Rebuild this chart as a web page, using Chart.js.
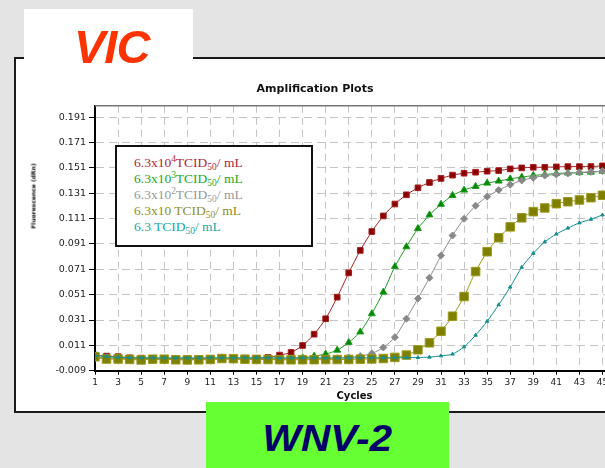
<!DOCTYPE html>
<html>
<head>
<meta charset="utf-8">
<script src="https://cdn.jsdelivr.net/npm/chart.js@4.4.1/dist/chart.umd.min.js"></script>
<style>
  html, body { margin: 0; padding: 0; }
  body {
    width: 605px; height: 468px; overflow: hidden; position: relative;
    background: #e4e4e4;
    font-family: 'Liberation Sans', Arial, sans-serif;
  }
  #box {
    position: absolute; left: 14px; top: 57px; width: 614px; height: 356px;
    box-sizing: border-box; border: 2px solid #1a1a1a; background: #fff;
  }
  #wrap { position: absolute; left: 0; top: 0; width: 608px; height: 352px; }
  #vic {
    position: absolute; left: 24px; top: 9px; width: 169px; height: 52px;
    background: #fff; z-index: 2;
  }
  #vic span {
    position: absolute; left: 50px; top: 14px;
    font: italic bold 47px/47px 'Liberation Sans', Arial, sans-serif;
    color: #ff3300; letter-spacing: -1px;
  }
  #legend {
    position: absolute; left: 115px; top: 145px; width: 198px; height: 102px;
    box-sizing: border-box; border: 2px solid #111; background: #fff;
    padding: 8px 0 0 17px; z-index: 2;
    font: 13.5px/16px 'Liberation Serif', 'Times New Roman', serif;
    white-space: nowrap;
  }
  #legend sup, #legend sub { font-size: 70%; line-height: 0; vertical-align: baseline; position: relative; }
  #legend sup { top: -0.5em; }
  #legend sub { top: 0.3em; }
  #ytitle {
    position: absolute; left: 33px; top: 196px; z-index: 2;
    transform: translate(-50%, -50%) rotate(-90deg);
    font: bold 6px 'DejaVu Sans', sans-serif; color: #111; white-space: nowrap;
  }
  #wnv {
    position: absolute; left: 206px; top: 402px; width: 243px; height: 66px;
    background: #66ff33; z-index: 3; text-align: center;
  }
  #wnv span {
    display: inline-block; margin-top: 19px;
    font: italic bold 36px/36px 'Liberation Sans', Arial, sans-serif;
    color: #000066; transform: scaleX(1.13);
  }
</style>
</head>
<body>
<div id="box"><div id="wrap"><canvas id="chart"></canvas></div></div>
<div id="vic"><span>VIC</span></div>
<div id="legend"></div>
<div id="ytitle">Fluorescence (dRn)</div>
<div id="wnv"><span>WNV-2</span></div>

<script>
var cycles = [1,2,3,4,5,6,7,8,9,10,11,12,13,14,15,16,17,18,19,20,21,22,23,24,25,26,27,28,29,30,
              31,32,33,34,35,36,37,38,39,40,41,42,43,44,45];
var xTicks = [1,3,5,7,9,11,13,15,17,19,21,23,25,27,29,31,33,35,37,39,41,43,45];
var yTicks = [-0.009, 0.011, 0.031, 0.051, 0.071, 0.091, 0.111, 0.131, 0.151, 0.171, 0.191];

var seriesNames = ['6.3x10^4 TCID50/mL', '6.3x10^3 TCID50/mL', '6.3x10^2 TCID50/mL',
                   '6.3x10 TCID50/mL', '6.3 TCID50/mL'];
var seriesLegend = [
  '6.3x10<sup>4</sup>TCID<sub>50</sub>/ mL',
  '6.3x10<sup>3</sup>TCID<sub>50</sub>/ mL',
  '6.3x10<sup>2</sup>TCID<sub>50</sub>/ mL',
  '6.3x10 TCID<sub>50</sub>/ mL',
  '6.3 TCID<sub>50</sub>/ mL'
];

var red = [0.0033,0.0025,0.0021,0.0012,0.0009,0.0006,0.0005,0.0004,0.0004,0.0004,
           0.0005,0.0006,0.0006,0.0006,0.0008,0.0015,0.0033,0.0054,0.0109,0.0198,
           0.032,0.049,0.0682,0.0859,0.1008,0.1131,0.1225,0.1298,0.1353,0.1395,
           0.1427,0.1453,0.1468,0.1476,0.1484,0.1489,0.1502,0.151,0.1515,0.1515,
           0.1518,0.152,0.152,0.1521,0.1526];
var green = [0.0015,0.001,0.0008,0.0004,0.0002,0.0002,0.0001,0.0001,0.0001,0.0001,
             0.0002,0.0003,0.0003,0.0002,0.0002,0.0002,0.0003,0.0006,0.0012,0.0025,
             0.0041,0.0072,0.0133,0.0216,0.036,0.053,0.0731,0.0888,0.1032,0.1139,
             0.1223,0.1293,0.1335,0.1364,0.139,0.1406,0.1424,0.1437,0.145,0.1458,
             0.1466,0.147,0.1473,0.1476,0.1484];
var gray = [0.0012,0.0008,0.0006,0.0004,0.0003,0.0003,0.0002,0.0002,0.0002,0.0002,
            0.0003,0.0004,0.0004,0.0003,0.0003,0.0003,0.0003,0.0003,0.0004,0.0004,
            0.0005,0.0008,0.0015,0.0025,0.0046,0.0093,0.0174,0.032,0.048,0.0643,
            0.0818,0.0977,0.1108,0.1212,0.1283,0.1335,0.1377,0.1411,0.1432,0.145,
            0.1458,0.1466,0.1474,0.1479,0.1484];
var olive = [0.002,0.0002,0.0002,-0.0001,-0.0005,0.0001,0.0001,-0.0004,-0.0005,-0.0004,
             -0.0001,0.0006,0.0005,0.0001,-0.0001,-0.0002,-0.0003,-0.0004,-0.0003,-0.0003,
             -0.0002,-0.0002,-0.0001,0.0001,0.0003,0.0006,0.0015,0.0033,0.0075,0.013,
             0.0221,0.034,0.0495,0.0692,0.0849,0.0959,0.1045,0.1116,0.1165,0.1194,
             0.1228,0.1243,0.1257,0.1275,0.1294];
var teal = [0.003,0.0022,0.0016,0.0013,0.0012,0.0012,0.0011,0.0011,0.0011,0.0011,
            0.0012,0.0012,0.0012,0.0012,0.0012,0.0012,0.0011,0.0011,0.0011,0.0011,
            0.0011,0.0011,0.0011,0.0012,0.0012,0.0012,0.0012,0.0013,0.0014,0.0017,
            0.0027,0.0041,0.0098,0.019,0.03,0.043,0.057,0.0726,0.0836,0.0927,
            0.0988,0.1035,0.1076,0.1105,0.1139];

var legendColors = ['#b01e3a', '#22aa22', '#999999', '#8f8f1f', '#22a8a8'];

document.getElementById('legend').innerHTML = seriesLegend.map(function (t, i) {
  return '<div style="color:' + legendColors[i] + '">' + t + '</div>';
}).join('');

function pts(vals) {
  return cycles.map(function (c, i) { return {x: c, y: vals[i]}; });
}

// grey frame line along the top of the plot area
var topLine = {
  id: 'topLine',
  beforeDatasetsDraw: function (chart) {
    var a = chart.chartArea, ctx = chart.ctx;
    ctx.save();
    ctx.strokeStyle = '#777';
    ctx.lineWidth = 1.5;
    ctx.beginPath();
    ctx.moveTo(a.left, a.top);
    ctx.lineTo(a.right, a.top);
    ctx.stroke();
    ctx.restore();
  }
};

var tickFont = {family: "'DejaVu Sans', sans-serif", size: 9};

new Chart(document.getElementById('chart'), {
  type: 'line',
  data: {
    datasets: [
      {label: seriesNames[0], data: pts(red), borderColor: '#a52020', backgroundColor: '#8b0000',
       pointStyle: 'rect', pointRadius: 4, borderWidth: 1, order: 5},
      {label: seriesNames[1], data: pts(green), borderColor: '#1f9a1f', backgroundColor: '#008800',
       pointStyle: 'triangle', pointRadius: 4, borderWidth: 1, order: 4},
      {label: seriesNames[2], data: pts(gray), borderColor: '#8c8c8c', backgroundColor: '#888888',
       pointStyle: 'rectRot', pointRadius: 3.5, borderWidth: 1, order: 3},
      {label: seriesNames[3], data: pts(olive), borderColor: '#9a9a1a', backgroundColor: '#808000',
       pointStyle: 'rect', pointRadius: 6, borderWidth: 1, order: 2},
      {label: seriesNames[4], data: pts(teal), borderColor: '#178f8f', backgroundColor: '#178f8f',
       pointStyle: 'triangle', pointRadius: 2, borderWidth: 1, order: 1}
    ]
  },
  options: {
    responsive: true,
    maintainAspectRatio: false,
    animation: false,
    layout: {padding: {left: 0, right: 10, top: 13.6, bottom: 5}},
    elements: {line: {tension: 0.25}, point: {borderWidth: 1}},
    plugins: {
      legend: {display: false},
      tooltip: {enabled: false},
      title: {
        display: true, text: 'Amplification Plots', color: '#111',
        font: {family: "'DejaVu Sans', sans-serif", size: 11, weight: 'bold'},
        padding: {top: 10, bottom: 10}
      }
    },
    scales: {
      x: {
        type: 'linear', min: 1, max: 46,
        afterBuildTicks: function (s) { s.ticks = xTicks.map(function (v) { return {value: v}; }); },
        afterFit: function (s) { s.height = 35.3; },
        ticks: {color: '#222', font: tickFont, padding: 3, maxRotation: 0, autoSkip: false},
        grid: {color: '#c4c4c4', lineWidth: 1, tickColor: '#000', tickLength: 4, tickBorderDash: []},
        border: {color: '#000', width: 2, dash: [7, 5]},
        title: {
          display: true, text: 'Cycles', color: '#111',
          font: {family: "'DejaVu Sans', sans-serif", size: 10, weight: 'bold'},
          padding: {top: 2, bottom: 4}
        }
      },
      y: {
        min: -0.009, max: 0.2,
        afterBuildTicks: function (s) { s.ticks = yTicks.map(function (v) { return {value: v}; }); },
        afterFit: function (s) { s.width = 79; },
        ticks: {
          color: '#222', font: {family: "'DejaVu Sans', sans-serif", size: 9.5}, padding: 3,
          callback: function (v) { return v.toFixed(3); }
        },
        grid: {color: '#c4c4c4', lineWidth: 1, tickColor: '#000', tickLength: 6, tickBorderDash: []},
        border: {color: '#000', width: 2, dash: [8, 5]}
      }
    }
  },
  plugins: [topLine]
});
</script>
</body>
</html>
